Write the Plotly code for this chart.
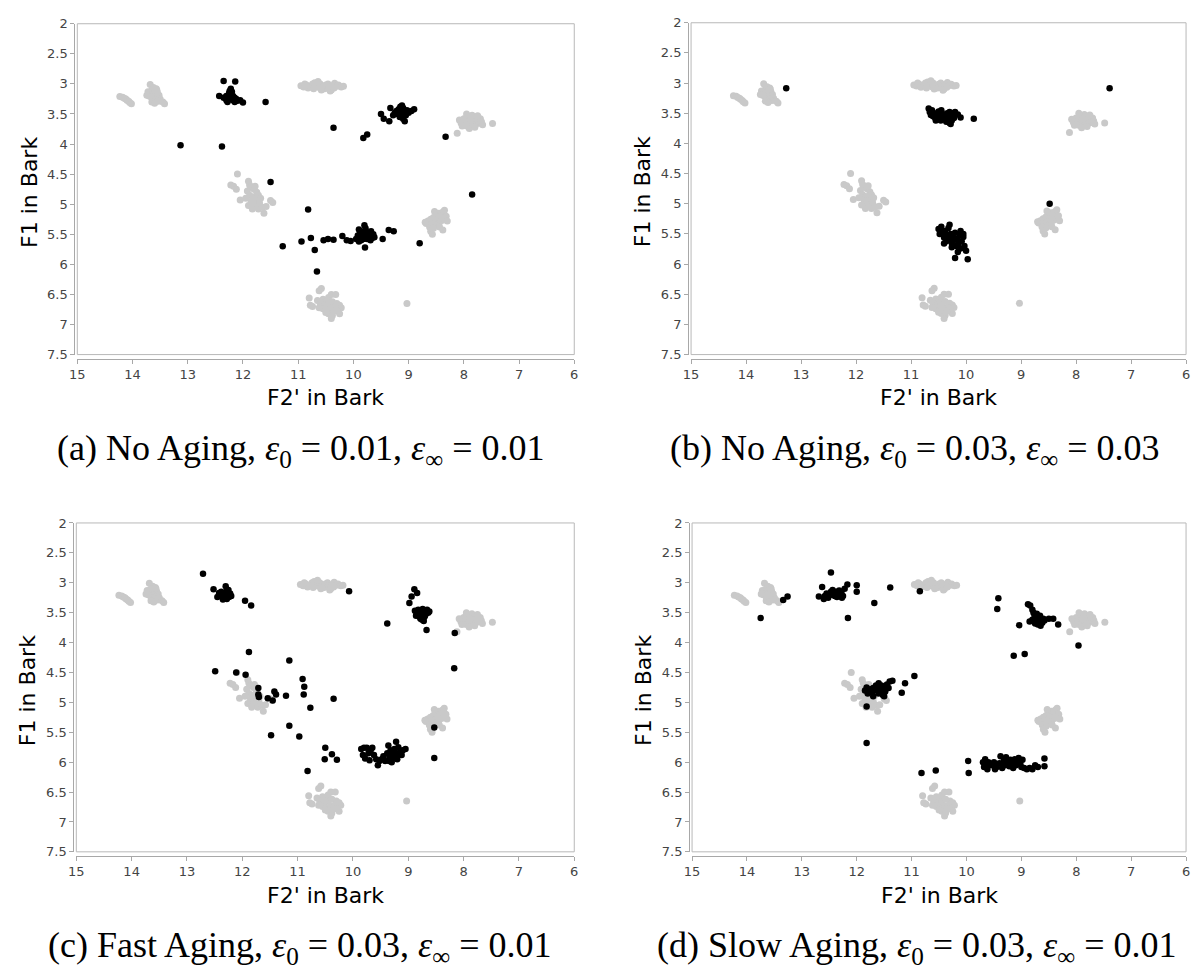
import plotly.graph_objects as go

# ---------------- data (F2' in Bark, F1 in Bark) ----------------
# gray prototype vowel clusters (same in every panel)
gray_c1 = [[14.23,3.21],[14.18,3.22],[14.15,3.24],[14.12,3.25],[14.10,3.27],[14.07,3.29],[14.05,3.31],[14.02,3.33]]
gray_c2 = [[13.68,3.01],[13.62,3.06],[13.57,3.08],[13.65,3.10],[13.72,3.13],[13.60,3.12],[13.55,3.14],[13.63,3.16],
           [13.68,3.18],[13.58,3.18],[13.52,3.19],[13.60,3.21],[13.66,3.22],[13.55,3.23],[13.50,3.25],[13.62,3.25],
           [13.58,3.27],[13.53,3.29],[13.65,3.30],[13.60,3.32],[13.45,3.30],[13.42,3.33],[13.70,3.20],[13.74,3.19],[13.56,3.10]]
gray_c3 = [[10.95,3.03],[10.90,3.05],[10.85,3.02],[10.82,3.07],[10.78,3.04],[10.74,3.00],[10.70,2.98],[10.66,3.03],
           [10.62,3.06],[10.60,3.00],[10.56,3.04],[10.52,3.08],[10.50,3.02],[10.46,3.00],[10.44,3.05],[10.40,3.10],
           [10.38,3.03],[10.34,2.99],[10.30,3.04],[10.27,3.02],[10.22,3.05],[10.18,3.04],[10.42,3.12],[10.58,3.10],
           [10.72,3.08],[10.88,3.00],[10.35,3.07],[10.64,2.96]]
gray_c4 = [[8.08,3.60],[8.05,3.65],[8.00,3.58],[7.97,3.63],[7.95,3.70],[7.92,3.55],[7.90,3.62],[7.88,3.67],
           [7.86,3.58],[7.84,3.64],[7.82,3.70],[7.80,3.55],[7.78,3.61],[7.76,3.66],[7.74,3.60],[7.72,3.65],
           [7.70,3.58],[7.68,3.63],[7.66,3.68],[7.85,3.52],[7.90,3.74],[7.80,3.72],[8.03,3.70],[7.75,3.53],
           [8.12,3.82],[7.48,3.66],[7.95,3.50],[7.88,3.60]]
gray_c5 = [[12.10,4.50],[12.22,4.68],[12.17,4.70],[12.12,4.75],[12.05,4.93],[11.90,4.62],[11.88,4.68],[11.85,4.72],
           [11.92,4.78],[11.80,4.75],[11.75,4.80],[11.88,4.85],[11.82,4.88],[11.78,4.92],[11.72,4.85],[11.85,4.95],
           [11.80,5.00],[11.75,5.02],[11.70,4.98],[11.90,5.02],[11.83,5.08],[11.72,5.08],[11.65,5.05],[11.62,5.15],
           [11.50,4.94],[11.46,4.97],[11.78,4.70],[11.95,4.90],[11.68,4.90],[11.58,5.04]]
gray_c6 = [[8.35,5.10],[8.38,5.13],[8.45,5.15],[8.50,5.18],[8.42,5.20],[8.55,5.22],[8.60,5.25],[8.48,5.25],
           [8.40,5.27],[8.65,5.28],[8.52,5.30],[8.45,5.32],[8.58,5.33],[8.68,5.32],[8.50,5.36],[8.62,5.38],
           [8.55,5.40],[8.60,5.45],[8.57,5.50],[8.38,5.43],[8.32,5.20],[8.30,5.28],[8.70,5.30],[8.44,5.38],[8.53,5.12]]
gray_c7 = [[10.58,6.40],[10.62,6.44],[10.80,6.56],[10.78,6.68],[10.74,6.70],[10.65,6.60],[10.55,6.58],[10.50,6.62],
           [10.45,6.55],[10.40,6.50],[10.32,6.50],[10.60,6.65],[10.52,6.68],[10.45,6.66],[10.38,6.62],[10.30,6.65],
           [10.25,6.68],[10.22,6.72],[10.55,6.74],[10.48,6.76],[10.40,6.73],[10.33,6.72],[10.28,6.78],[10.45,6.82],
           [10.38,6.85],[10.40,6.90],[10.25,6.82],[10.62,6.72],[10.35,6.78],[10.50,6.80]]
gray_outlier = [[9.03,6.65]]

# black points, panel (a) No Aging 0.01/0.01
black_a = [[12.35,2.95],[12.14,2.96],[12.43,3.20],[12.00,3.31],[11.59,3.30],[12.22,3.08],[12.25,3.15],[12.20,3.13],
           [12.30,3.20],[12.27,3.22],[12.22,3.19],[12.18,3.20],[12.15,3.23],[12.12,3.25],[12.25,3.25],[12.30,3.27],
           [12.20,3.26],[12.10,3.28],[12.15,3.30],[12.28,3.30],[12.05,3.27],[12.35,3.23],[12.24,3.12],[12.18,3.27],
           [13.13,4.02],[12.38,4.04],[11.50,4.63],[10.82,5.09],[10.36,3.73],[9.82,3.90],[9.75,3.84],[8.33,3.88],
           [7.85,4.84],[8.80,5.65],[10.66,6.12],[11.28,5.70],[10.94,5.62],[10.77,5.56],[10.70,5.76],[10.54,5.60],
           [10.46,5.58],[10.36,5.59],[10.20,5.53],[10.12,5.60],[10.05,5.61],[9.47,5.58],[9.36,5.43],[9.27,5.45],[9.79,5.72],
           [9.90,5.42],[9.88,5.48],[9.85,5.55],[9.82,5.50],[9.80,5.45],[9.78,5.40],[9.76,5.52],[9.74,5.47],
           [9.72,5.55],[9.70,5.50],[9.68,5.45],[9.66,5.56],[9.64,5.50],[9.62,5.55],[9.86,5.60],[9.92,5.52],
           [9.82,5.58],[9.75,5.58],[9.95,5.58],[9.69,5.60],[9.90,5.62],[9.80,5.35],
           [9.50,3.50],[9.45,3.58],[9.35,3.62],[9.33,3.40],[9.28,3.52],[9.22,3.45],[9.20,3.50],[9.18,3.42],
           [9.15,3.38],[9.13,3.45],[9.12,3.50],[9.10,3.40],[9.08,3.47],[9.05,3.52],[9.03,3.44],[9.00,3.48],
           [8.95,3.45],[8.90,3.42],[9.10,3.58],[9.07,3.62],[9.16,3.55],[9.25,3.48],[9.12,3.36]]

# panel (b) No Aging 0.03/0.03
black_b = [[13.27,3.085],[7.39,3.085],[8.48,5.00],[9.86,3.59],
           [10.68,3.42],[10.66,3.48],[10.64,3.53],[10.62,3.45],[10.60,3.55],[10.58,3.50],[10.56,3.58],[10.54,3.52],
           [10.52,3.60],[10.50,3.47],[10.48,3.55],[10.46,3.62],[10.44,3.50],[10.42,3.57],[10.40,3.60],[10.38,3.53],
           [10.36,3.64],[10.34,3.50],[10.32,3.58],[10.30,3.66],[10.28,3.55],[10.26,3.62],[10.24,3.50],[10.22,3.58],
           [10.20,3.48],[10.15,3.52],[10.10,3.57],[10.30,3.48],[10.45,3.45],[10.28,3.68],[10.35,3.60],[10.55,3.62],
           [10.50,5.42],[10.48,5.50],[10.45,5.38],[10.42,5.47],[10.40,5.56],[10.38,5.45],[10.36,5.62],[10.34,5.52],
           [10.32,5.40],[10.30,5.58],[10.28,5.50],[10.26,5.65],[10.24,5.55],[10.22,5.60],[10.20,5.48],[10.18,5.70],
           [10.16,5.58],[10.14,5.66],[10.12,5.52],[10.10,5.74],[10.08,5.62],[10.05,5.55],[10.03,5.70],[10.00,5.78],
           [10.26,5.72],[10.20,5.90],[9.97,5.92],[10.40,5.66],[10.15,5.80],[10.05,5.50],[10.30,5.35],[10.10,5.45]]

# panel (c) Fast Aging 0.03/0.01
black_c = [[12.71,2.85],[12.52,3.11],
           [12.42,3.17],[12.40,3.22],[12.38,3.15],[12.36,3.20],[12.34,3.25],[12.32,3.18],[12.30,3.22],[12.28,3.27],
           [12.26,3.20],[12.24,3.24],[12.22,3.18],[12.30,3.06],[12.25,3.12],[12.45,3.24],[12.20,3.22],[12.35,3.28],[12.28,3.14],
           [11.95,3.30],[11.84,3.38],[10.07,3.14],
           [8.89,3.11],[8.84,3.17],[8.94,3.23],[8.98,3.34],[8.67,3.79],
           [8.88,3.47],[8.85,3.50],[8.82,3.45],[8.80,3.52],[8.78,3.48],[8.76,3.55],[8.74,3.50],[8.72,3.58],
           [8.70,3.47],[8.68,3.52],[8.66,3.45],[8.64,3.50],[8.78,3.60],[8.75,3.62],[8.72,3.64],[8.80,3.57],
           [8.70,3.56],[8.62,3.48],[8.86,3.55],[8.74,3.44],
           [9.38,3.68],[8.16,3.84],[8.17,4.43],[8.53,5.42],[8.53,5.93],
           [11.88,4.16],[11.15,4.30],[12.49,4.48],[12.11,4.50],[11.94,4.54],[10.91,4.61],[10.88,4.74],[10.89,4.87],
           [11.71,4.76],[11.71,4.87],[11.70,4.91],[11.54,4.93],[11.45,4.97],[11.42,4.82],[11.39,4.87],[11.21,4.89],
           [10.77,5.09],[10.35,4.94],[11.48,5.55],[11.15,5.39],[10.97,5.57],[10.50,5.76],[10.51,5.95],[10.38,5.87],
           [10.29,5.96],[10.82,6.15],
           [9.85,5.78],[9.82,5.88],[9.78,5.94],[9.75,5.76],[9.72,5.85],[9.70,5.97],[9.68,5.80],[9.65,5.76],
           [9.62,5.88],[9.58,5.95],[9.55,6.05],[9.52,5.98],[9.48,5.95],[9.45,5.90],[9.42,5.98],[9.38,5.85],
           [9.36,5.72],[9.34,5.92],[9.32,5.80],[9.30,6.00],[9.28,5.87],[9.26,5.94],[9.25,5.78],[9.22,5.66],
           [9.20,5.88],[9.18,5.75],[9.15,5.83],[9.12,5.88],[9.10,5.80],[9.05,5.78],[9.30,5.90],[9.20,5.95],
           [9.35,5.98],[9.25,5.84],[9.80,5.76]]

# panel (d) Slow Aging 0.03/0.01
black_d = [[13.75,3.59],[13.34,3.29],[13.26,3.23],[12.69,3.23],[12.63,3.07],[12.47,2.83],
           [12.58,3.22],[12.55,3.18],[12.52,3.25],[12.50,3.20],[12.47,3.15],[12.45,3.20],[12.42,3.17],[12.40,3.22],
           [12.38,3.15],[12.35,3.19],[12.32,3.13],[12.30,3.20],[12.28,3.16],[12.25,3.22],[12.22,3.10],[12.27,3.25],
           [12.60,3.27],[12.36,3.24],[12.44,3.12],
           [12.17,3.03],[12.00,3.04],[12.00,3.15],[12.16,3.59],[11.68,3.34],[11.39,3.08],[10.85,3.14],
           [9.42,3.26],[9.44,3.44],[9.04,3.71],[9.14,4.22],[8.94,4.19],[7.96,4.05],
           [8.88,3.36],[8.84,3.38],[8.80,3.45],[8.78,3.50],[8.76,3.55],[8.74,3.60],[8.72,3.65],[8.70,3.58],
           [8.68,3.62],[8.66,3.55],[8.64,3.60],[8.62,3.67],[8.60,3.60],[8.75,3.68],[8.70,3.70],[8.65,3.72],
           [8.80,3.62],[8.85,3.65],[8.58,3.63],[8.50,3.60],[8.42,3.60],[8.33,3.70],[8.72,3.52],[8.68,3.66],
           [11.85,4.80],[11.82,4.75],[11.80,4.85],[11.78,4.80],[11.75,4.78],[11.72,4.83],[11.70,4.76],[11.68,4.80],
           [11.65,4.72],[11.62,4.78],[11.60,4.85],[11.58,4.75],[11.55,4.80],[11.52,4.88],[11.50,4.75],[11.48,4.82],
           [11.45,4.70],[11.42,4.76],[11.40,4.65],[11.70,4.90],[11.60,4.68],[11.55,4.72],[11.50,4.90],[11.35,4.64],
           [10.95,4.56],[11.12,4.68],[11.18,4.84],[11.82,5.07],[11.82,5.68],[10.82,6.18],[10.56,6.14],
           [9.97,5.98],[9.96,6.18],
           [9.70,6.00],[9.68,6.08],[9.66,5.95],[9.64,6.05],[9.62,6.12],[9.60,6.00],[9.55,6.05],[9.45,6.08],
           [9.40,6.02],[9.35,6.10],[9.32,5.98],[9.30,6.05],[9.28,5.92],[9.25,6.00],[9.22,6.07],[9.20,5.96],
           [9.17,6.02],[9.15,6.10],[9.12,5.95],[9.10,6.05],[9.08,6.00],[9.05,5.93],[9.02,6.02],[9.00,6.08],
           [8.98,5.96],[8.95,6.10],[8.90,6.12],[8.85,6.10],[8.80,6.12],[8.75,6.05],[8.70,6.08],[8.58,6.07],
           [8.58,5.94],[9.38,5.90],[9.50,6.00],[9.48,6.12]]

captions = ["(a) No Aging, <i>ε</i><sub>0</sub> = 0.01, <i>ε</i><sub>∞</sub> = 0.01",
            "(b) No Aging, <i>ε</i><sub>0</sub> = 0.03, <i>ε</i><sub>∞</sub> = 0.03",
            "(c) Fast Aging, <i>ε</i><sub>0</sub> = 0.03, <i>ε</i><sub>∞</sub> = 0.01",
            "(d) Slow Aging, <i>ε</i><sub>0</sub> = 0.03, <i>ε</i><sub>∞</sub> = 0.01"]
x_title = "F2' in Bark"
y_title = "F1 in Bark"
x_range = [15, 6]
y_range = [7.5, 2]

# ---------------- layout geometry (pixels) ----------------
W, H = 1196, 978
# (left, right, top, bottom) of each plot box in pixels
boxes = [(70, 572, 17, 353), (690, 1190, 16, 353), (69, 572, 524, 858), (691, 1190, 524, 858)]
caption_x = [296, 916, 295, 918]
gray_all = gray_c1 + gray_c2 + gray_c3 + gray_c4 + gray_c5 + gray_c6 + gray_c7 + gray_outlier
blacks = [black_a, black_b, black_c, black_d]

GRAY = "#c9c9c9"
LINE = "#a8a8a8"
TICKFONT = dict(family="DejaVu Sans", size=13, color="#444444")

fig = go.Figure()
layout = dict(width=W, height=H, margin=dict(l=0, r=0, t=0, b=0),
              paper_bgcolor="white", plot_bgcolor="white", showlegend=False)
shapes, annotations = [], []

for i, (l, r, t, b) in enumerate(boxes):
    n = "" if i == 0 else str(i + 1)
    xd = [l / W, r / W]
    yd = [1 - b / H, 1 - t / H]
    fig.add_trace(go.Scatter(x=[p[0] for p in gray_all], y=[p[1] for p in gray_all], mode="markers",
                             marker=dict(color=GRAY, size=7, line=dict(width=0)),
                             xaxis="x" + n, yaxis="y" + n, hoverinfo="skip"))
    bl = blacks[i]
    fig.add_trace(go.Scatter(x=[p[0] for p in bl], y=[p[1] for p in bl], mode="markers",
                             marker=dict(color="black", size=6.5, line=dict(width=0)),
                             xaxis="x" + n, yaxis="y" + n, hoverinfo="skip"))
    layout["xaxis" + n] = dict(domain=xd, range=x_range, tickmode="array",
                               tickvals=[15, 14, 13, 12, 11, 10, 9, 8, 7, 6],
                               ticktext=["15", "14", "13", "12", "11", "10", "9", "8", "7", "6"],
                               anchor="free", ticklabeloverflow="allow",
                               position=max(0, yd[0] - 4 / H), showline=True, linecolor=LINE,
                               ticks="outside", ticklen=4, tickcolor=LINE, showgrid=False,
                               zeroline=False, tickfont=TICKFONT, fixedrange=True)
    layout["yaxis" + n] = dict(domain=yd, range=y_range, dtick=0.5, tick0=2, anchor="free",
                               position=max(0, xd[0] - 3 / W), showline=True, linecolor=LINE,
                               ticks="outside", ticklen=4, tickcolor=LINE, showgrid=False,
                               zeroline=False, tickfont=TICKFONT, fixedrange=True)
    shapes.append(dict(type="rect", xref="x%s domain" % n, yref="y%s domain" % n,
                       x0=0, x1=1, y0=0, y1=1, line=dict(color="#b8b8b8", width=1), layer="above"))
    # axis titles
    annotations.append(dict(text=x_title, x=(l + r) / 2 / W, y=1 - (b + 44) / H, xref="paper", yref="paper",
                            showarrow=False, xanchor="center", yanchor="middle",
                            font=dict(family="DejaVu Sans", size=22, color="black")))
    annotations.append(dict(text=y_title, x=(l - 49) / W, y=1 - ((t + b) / 2 + 3) / H, xref="paper", yref="paper",
                            showarrow=False, xanchor="center", yanchor="middle", textangle=-90,
                            font=dict(family="DejaVu Sans", size=22, color="black")))
    annotations.append(dict(text=captions[i], x=caption_x[i] / W, y=1 - (b + 97) / H, xref="paper", yref="paper",
                            showarrow=False, xanchor="center", yanchor="middle",
                            font=dict(family="Liberation Serif", size=36, color="black")))

layout["shapes"] = shapes
layout["annotations"] = annotations
fig.update_layout(**layout)
fig.write_html("out.html", config={"displayModeBar": False},
               post_script="document.body.style.margin='0px';document.body.style.overflow='hidden';")
